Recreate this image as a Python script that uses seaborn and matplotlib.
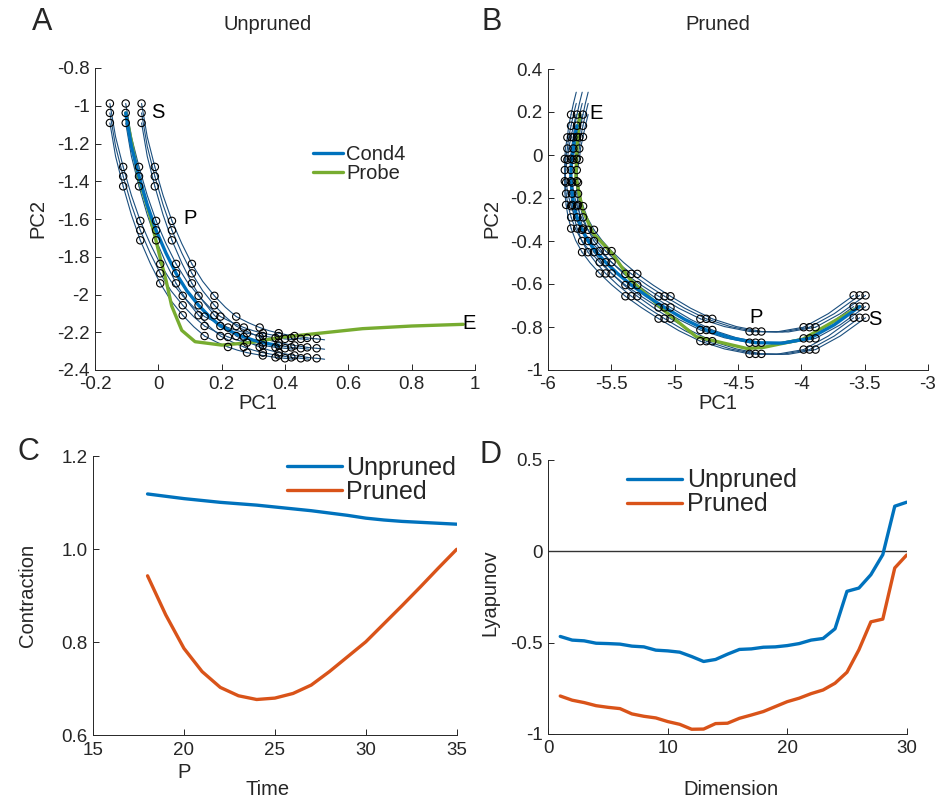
import numpy as np
import pandas as pd
import seaborn as sns
import matplotlib.pyplot as plt

# ---- panel A (unpruned): Cond4 trajectory, read at half steps
a_cond4_x = [-0.103, -0.085, -0.061, -0.035, -0.007, 0.024, 0.056, 0.090, 0.127, 0.162,
             0.196, 0.235, 0.270, 0.300, 0.330, 0.355, 0.380, 0.400, 0.420, 0.435,
             0.450, 0.462, 0.475]
a_cond4_y = [-1.038, -1.215, -1.374, -1.525, -1.660, -1.780, -1.888, -1.980, -2.057, -2.118,
             -2.167, -2.200, -2.225, -2.242, -2.255, -2.263, -2.270, -2.275, -2.280, -2.283,
             -2.285, -2.287, -2.290]
a_probe_x = [-0.103, -0.063, -0.027, 0.005, 0.025, 0.042, 0.074, 0.116, 0.200, 0.290,
             0.390, 0.510, 0.645, 0.800, 0.963]
a_probe_y = [-1.038, -1.376, -1.580, -1.800, -1.930, -2.060, -2.190, -2.250, -2.268, -2.255,
             -2.226, -2.205, -2.181, -2.167, -2.158]
a_grid_dx = [-0.05, 0.0, 0.05]
a_grid_dy = [0.05, 0.0, -0.053]
a_groups = 11
a_xticks = [-0.2, 0, 0.2, 0.4, 0.6, 0.8, 1]
a_xticklabels = ['-0.2', '0', '0.2', '0.4', '0.6', '0.8', '1']
a_yticks = [-2.4, -2.2, -2, -1.8, -1.6, -1.4, -1.2, -1, -0.8]
a_yticklabels = ['-2.4', '-2.2', '-2', '-1.8', '-1.6', '-1.4', '-1.2', '-1', '-0.8']

# ---- panel B (pruned)
b_cond4_x = [-3.540, -3.740, -3.935, -4.150, -4.362, -4.560, -4.750, -4.920, -5.080, -5.215,
             -5.342, -5.450, -5.545, -5.620, -5.684, -5.735, -5.770, -5.795, -5.810, -5.820,
             -5.820, -5.815, -5.800, -5.790, -5.771, -5.752, -5.730]
b_cond4_y = [-0.705, -0.790, -0.853, -0.875, -0.873, -0.850, -0.814, -0.765, -0.709, -0.658,
             -0.605, -0.552, -0.499, -0.450, -0.400, -0.345, -0.290, -0.235, -0.180, -0.125,
             -0.070, -0.020, 0.030, 0.083, 0.136, 0.188, 0.240]
b_probe_x = [-3.540, -3.990, -4.300, -4.430, -4.830, -5.090, -5.350, -5.490, -5.645, -5.730,
             -5.780, -5.770, -5.750]
b_probe_y = [-0.705, -0.857, -0.895, -0.900, -0.845, -0.720, -0.580, -0.460, -0.364, -0.250,
             -0.100, 0.050, 0.190]
b_grid_dx = [-0.047, 0.0, 0.047]
b_grid_dy = [0.052, 0.0, -0.052]
b_groups = 13
b_xticks = [-6, -5.5, -5, -4.5, -4, -3.5, -3]
b_xticklabels = ['-6', '-5.5', '-5', '-4.5', '-4', '-3.5', '-3']
b_yticks = [-1, -0.8, -0.6, -0.4, -0.2, 0, 0.2, 0.4]
b_yticklabels = ['-1', '-0.8', '-0.6', '-0.4', '-0.2', '0', '0.2', '0.4']

# ---- panel C
c_time = list(range(18, 36))
c_unpruned = [1.119, 1.114, 1.109, 1.105, 1.101, 1.098, 1.095, 1.091, 1.087, 1.083,
              1.078, 1.073, 1.067, 1.063, 1.060, 1.058, 1.056, 1.054]
c_pruned = [0.943, 0.859, 0.787, 0.737, 0.703, 0.685, 0.677, 0.680, 0.690, 0.708,
            0.737, 0.769, 0.801, 0.840, 0.879, 0.919, 0.960, 1.000]

# ---- panel D
d_dim = list(range(1, 31))
d_unpruned = [-0.466, -0.486, -0.490, -0.503, -0.505, -0.508, -0.519, -0.523, -0.541, -0.545,
              -0.552, -0.576, -0.603, -0.592, -0.563, -0.537, -0.534, -0.525, -0.523, -0.516,
              -0.505, -0.486, -0.477, -0.424, -0.219, -0.201, -0.128, -0.018, 0.247, 0.269]
d_pruned = [-0.792, -0.815, -0.828, -0.845, -0.854, -0.861, -0.890, -0.903, -0.912, -0.932,
            -0.947, -0.974, -0.973, -0.943, -0.941, -0.914, -0.896, -0.877, -0.850, -0.823,
            -0.804, -0.779, -0.759, -0.722, -0.662, -0.539, -0.386, -0.371, -0.091, -0.020]

BLUE = '#0072BD'
ORANGE = '#D95319'
GREEN = '#77AC30'
THIN = '#1b4f7e'
AXC = '#262626'

sns.set_theme(style='ticks', rc={
    'xtick.direction': 'in', 'ytick.direction': 'in',
    'xtick.major.size': 4, 'ytick.major.size': 4,
    'xtick.major.width': 0.7, 'ytick.major.width': 0.7,
    'axes.linewidth': 0.7, 'axes.edgecolor': AXC,
    'xtick.color': AXC, 'ytick.color': AXC,
    'axes.unicode_minus': False,
})
plt.rcParams['font.family'] = ['Liberation Sans', 'DejaVu Sans']


def fan_frames(px, py, dxs, dys, n_groups):
    # perturbed states around each step of the trajectory, each run one step forward
    rows, pts = [], []
    unit = 0
    for k in range(n_groups):
        i = 2 * k
        for dx in dxs:
            for dy in dys:
                pts.append((px[i] + dx, py[i] + dy))
                for j in range(i, i + 3):
                    rows.append((unit, px[j] + dx, py[j] + dy))
                unit += 1
    return (pd.DataFrame(rows, columns=['unit', 'x', 'y']),
            pd.DataFrame(pts, columns=['x', 'y']))


def draw_state_space(ax, cx, cy, prx, pry, dxs, dys, n_groups, n_cond):
    lines, pts = fan_frames(cx, cy, dxs, dys, n_groups)
    sns.lineplot(data=lines, x='x', y='y', units='unit', estimator=None, sort=False,
                 color=THIN, lw=0.8, ax=ax, zorder=1)
    sns.lineplot(x=prx, y=pry, sort=False, color=GREEN, lw=2.4, ax=ax, zorder=2,
                 label='Probe')
    sns.lineplot(x=cx[:n_cond], y=cy[:n_cond], sort=False, color=BLUE, lw=2.4, ax=ax,
                 zorder=3, label='Cond4')
    sns.scatterplot(data=pts, x='x', y='y', marker='o', s=28, facecolors='none',
                    edgecolor='black', linewidth=0.8, ax=ax, zorder=4)


def style_axis(ax, xlabel, ylabel, xl, yl):
    ax.set_xlabel(xlabel, fontsize=14.5)
    ax.set_ylabel(ylabel, fontsize=14.5)
    ax.xaxis.set_label_coords(*xl)
    ax.yaxis.set_label_coords(*yl)
    ax.xaxis.label.set_va('center')
    ax.yaxis.label.set_va('center')
    ax.tick_params(labelsize=13.5)
    ax.tick_params(axis='x', pad=4.5)
    ax.tick_params(axis='y', pad=4)
    sns.despine(ax=ax)


fig = plt.figure(figsize=(9.4, 8), dpi=100)

# A
axA = fig.add_axes([95 / 940, 1 - 370 / 800, 380 / 940, 302 / 800])
draw_state_space(axA, a_cond4_x, a_cond4_y, a_probe_x, a_probe_y,
                 a_grid_dx, a_grid_dy, a_groups, 17)
axA.set_xlim(-0.2, 1)
axA.set_ylim(-2.4, -0.8)
axA.set_xticks(a_xticks, a_xticklabels)
axA.set_yticks(a_yticks, a_yticklabels)
style_axis(axA, 'PC1', 'PC2', (0.429, -0.11), (-0.15, 0.503))
axA.legend(loc='center left', bbox_to_anchor=(0.573, 0.683), frameon=False, fontsize=14.5,
           borderpad=0, borderaxespad=0, handlelength=1.5, handletextpad=0.15,
           labelspacing=0, reverse=True)
for t, x, y in [('S', -0.001, -1.037), ('P', 0.1, -1.595), ('E', 0.981, -2.152)]:
    axA.text(x, y, t, fontsize=14.5, ha='center', va='center', color='black')

# B
axB = fig.add_axes([548 / 940, 1 - 370 / 800, 380 / 940, 301 / 800])
draw_state_space(axB, b_cond4_x, b_cond4_y, b_probe_x, b_probe_y,
                 b_grid_dx, b_grid_dy, b_groups, 25)
axB.set_xlim(-6, -3)
axB.set_ylim(-1, 0.4)
axB.set_xticks(b_xticks, b_xticklabels)
axB.set_yticks(b_yticks, b_yticklabels)
style_axis(axB, 'PC1', 'PC2', (0.4466, -0.11), (-0.148, 0.503))
axB.get_legend().remove()
for t, x, y in [('S', -3.421, -0.767), ('P', -4.354, -0.758), ('E', -5.624, 0.195)]:
    axB.text(x, y, t, fontsize=14.5, ha='center', va='center', color='black')

# C
axC = fig.add_axes([93 / 940, 1 - 735.3 / 800, 363.7 / 940, 279 / 800])
sns.lineplot(x=c_time, y=c_unpruned, color=BLUE, lw=2.4, ax=axC, label='Unpruned')
sns.lineplot(x=c_time, y=c_pruned, color=ORANGE, lw=2.4, ax=axC, label='Pruned')
axC.set_xlim(15, 35)
axC.set_ylim(0.6, 1.2)
axC.set_xticks([15, 20, 25, 30, 35])
axC.set_yticks([0.6, 0.8, 1.0, 1.2], ['0.6', '0.8', '1.0', '1.2'])
style_axis(axC, 'Time', 'Contraction', (0.481, -0.196), (-0.179, 0.503))
axC.legend(loc='center left', bbox_to_anchor=(0.533, 0.915), frameon=False, fontsize=18,
           borderpad=0, borderaxespad=0, handlelength=2.2, handletextpad=0.18,
           labelspacing=0)
axC.annotate('P', xy=(20, -0.135), xycoords=('data', 'axes fraction'), fontsize=14.5,
             ha='center', va='center')

# D
axD = fig.add_axes([548.3 / 940, 1 - 734 / 800, 358.4 / 940, 274 / 800])
axD.axhline(0, color='#333333', lw=1.0, zorder=1)
sns.lineplot(x=d_dim, y=d_unpruned, color=BLUE, lw=2.4, ax=axD, label='Unpruned')
sns.lineplot(x=d_dim, y=d_pruned, color=ORANGE, lw=2.4, ax=axD, label='Pruned')
axD.set_xlim(0, 30)
axD.set_ylim(-1, 0.5)
axD.set_xticks([0, 10, 20, 30])
axD.set_yticks([-1, -0.5, 0, 0.5], ['-1', '-0.5', '0', '0.5'])
style_axis(axD, 'Dimension', 'Lyapunov', (0.51, -0.204), (-0.163, 0.515))
axD.legend(loc='center left', bbox_to_anchor=(0.2204, 0.882), frameon=False, fontsize=18,
           borderpad=0, borderaxespad=0, handlelength=2.2, handletextpad=0.18,
           labelspacing=0)

# titles and panel letters
fig.text(268 / 940, 1 - 25 / 800, 'Unpruned', fontsize=14.5, ha='center', va='center')
fig.text(718 / 940, 1 - 25 / 800, 'Pruned', fontsize=14.5, ha='center', va='center')
for t, x, y in [('A', 42, 22), ('B', 492, 22), ('C', 28, 452), ('D', 490, 455)]:
    fig.text(x / 940, 1 - y / 800, t, fontsize=22, ha='center', va='center')

fig.savefig('out.png', dpi=100)
